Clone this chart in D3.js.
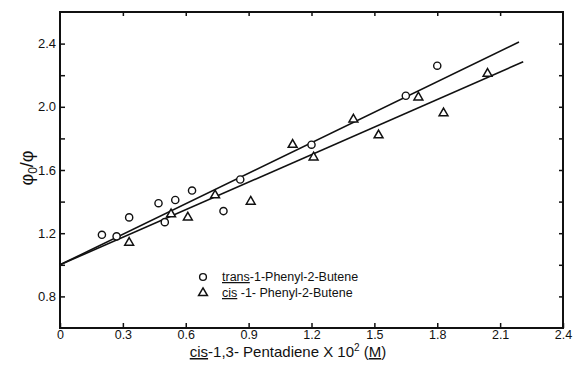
<!DOCTYPE html>
<html lang="en">
<head>
    <meta charset="UTF-8">
    <title>Stern-Volmer plot, phenyl-butene quenching by cis-1,3-pentadiene</title>
    <script src="https://d3js.org/d3.v7.min.js"></script>
    <style>
        body { margin: 0; background: #fff; }
        text { font-family: "Liberation Sans", Arial, sans-serif; fill: #111; }
    </style>
</head>
<body>
    <svg width="576" height="370"></svg>
    <script>
        const width = 576, height = 370;

        // tick values
        const xTicks = [0, 0.3, 0.6, 0.9, 1.2, 1.5, 1.8, 2.1, 2.4];
        const yLabelTicks = [0.8, 1.2, 1.6, 2.0, 2.4];
        const yAllTicks = [0.8, 1.0, 1.2, 1.4, 1.6, 1.8, 2.0, 2.2, 2.4];

        // trans-1-phenyl-2-butene (circles)
        const transX = [0.20, 0.27, 0.33, 0.47, 0.50, 0.55, 0.63, 0.78, 0.86, 1.20, 1.65, 1.80];
        const transY = [1.19, 1.18, 1.30, 1.39, 1.27, 1.41, 1.47, 1.34, 1.54, 1.76, 2.07, 2.26];

        // cis-1-phenyl-2-butene (triangles)
        const cisX = [0.33, 0.53, 0.61, 0.74, 0.91, 1.11, 1.21, 1.40, 1.52, 1.71, 1.83, 2.04];
        const cisY = [1.14, 1.32, 1.30, 1.44, 1.40, 1.76, 1.68, 1.92, 1.82, 2.06, 1.96, 2.21];

        // fitted lines: [x, y] end points
        const transLine = [[0, 1.0], [2.19, 2.41]];
        const cisLine = [[0, 1.0], [2.21, 2.285]];

        const svg = d3.select("svg");

        const x = d3.scaleLinear().domain([0, 2.4]).range([60, 563]);
        const y = d3.scaleLinear().domain([0.6, 2.6]).range([328, 12]);

        const fmt = d => d === 0 ? "0" : d3.format(".1f")(d);

        // frame
        svg.append("rect")
            .attr("x", x(0)).attr("y", y(2.6))
            .attr("width", x(2.4) - x(0)).attr("height", y(0.6) - y(2.6))
            .attr("fill", "none").attr("stroke", "#111").attr("stroke-width", 2);

        // bottom axis
        const bottomAxis = svg.append("g")
            .attr("transform", `translate(0,${y(0.6)})`)
            .call(d3.axisBottom(x).tickValues(xTicks).tickSizeInner(-5).tickSizeOuter(0)
                .tickPadding(2).tickFormat(fmt));
        bottomAxis.select(".domain").remove();
        bottomAxis.selectAll("line").attr("stroke", "#111").attr("stroke-width", 1.5);
        bottomAxis.selectAll("text").attr("font-size", 12.5).attr("font-family", "Liberation Sans, Arial, sans-serif");

        // top axis (ticks only)
        const topAxis = svg.append("g")
            .attr("transform", `translate(0,${y(2.6)})`)
            .call(d3.axisTop(x).tickValues(xTicks.slice(1, -1)).tickSizeInner(-4).tickSizeOuter(0).tickFormat(""));
        topAxis.select(".domain").remove();
        topAxis.selectAll("line").attr("stroke", "#111").attr("stroke-width", 1.5);

        // left axis
        const leftAxis = svg.append("g")
            .attr("transform", `translate(${x(0)},0)`)
            .call(d3.axisLeft(y).tickValues(yAllTicks).tickSizeInner(-5).tickSizeOuter(0)
                .tickPadding(4).tickFormat(d => yLabelTicks.some(v => Math.abs(v - d) < 1e-9) ? fmt(d) : ""));
        leftAxis.select(".domain").remove();
        leftAxis.selectAll("line").attr("stroke", "#111").attr("stroke-width", 1.5);
        leftAxis.selectAll("text").attr("font-size", 13).attr("font-family", "Liberation Sans, Arial, sans-serif");

        // right axis (ticks only)
        const rightAxis = svg.append("g")
            .attr("transform", `translate(${x(2.4)},0)`)
            .call(d3.axisRight(y).tickValues(yAllTicks).tickSizeInner(-4).tickSizeOuter(0).tickFormat(""));
        rightAxis.select(".domain").remove();
        rightAxis.selectAll("line").attr("stroke", "#111").attr("stroke-width", 1.5);

        // fitted lines
        const line = d3.line().x(d => x(d[0])).y(d => y(d[1]));
        [transLine, cisLine].forEach(l => {
            svg.append("path")
                .attr("d", line(l))
                .attr("fill", "none")
                .attr("stroke", "#111")
                .attr("stroke-width", 1.6);
        });

        // circles
        svg.append("g").selectAll("circle")
            .data(transX.map((v, i) => [v, transY[i]]))
            .join("circle")
            .attr("cx", d => x(d[0])).attr("cy", d => y(d[1]))
            .attr("r", 3.6)
            .attr("fill", "#fff").attr("stroke", "#111").attr("stroke-width", 1.4);

        // triangles
        const tri = d3.symbol().type(d3.symbolTriangle).size(34);
        svg.append("g").selectAll("path")
            .data(cisX.map((v, i) => [v, cisY[i]]))
            .join("path")
            .attr("d", tri)
            .attr("transform", d => `translate(${x(d[0])},${y(d[1])})`)
            .attr("fill", "#fff").attr("stroke", "#111").attr("stroke-width", 1.5);

        // legend
        const legend = svg.append("g");
        legend.append("circle")
            .attr("cx", 203).attr("cy", 277).attr("r", 3.4)
            .attr("fill", "#fff").attr("stroke", "#111").attr("stroke-width", 1.4);
        legend.append("path")
            .attr("d", tri)
            .attr("transform", "translate(203,293)")
            .attr("fill", "#fff").attr("stroke", "#111").attr("stroke-width", 1.5);
        const l1 = legend.append("text").attr("x", 222).attr("y", 281).attr("font-size", 12.5);
        l1.append("tspan").attr("text-decoration", "underline").text("trans");
        l1.append("tspan").text("-1-Phenyl-2-Butene");
        const l2 = legend.append("text").attr("x", 222).attr("y", 297).attr("font-size", 12.5);
        l2.append("tspan").attr("text-decoration", "underline").text("cis");
        l2.append("tspan").text(" -1- Phenyl-2-Butene");

        // x axis title
        const xt = svg.append("text")
            .attr("x", 288).attr("y", 357)
            .attr("text-anchor", "middle")
            .attr("font-size", 15);
        xt.append("tspan").attr("text-decoration", "underline").text("cis");
        xt.append("tspan").text("-1,3- Pentadiene X 10");
        xt.append("tspan").attr("dy", -6).attr("font-size", 10).text("2");
        xt.append("tspan").attr("dy", 6).text(" (");
        xt.append("tspan").attr("text-decoration", "underline").text("M");
        xt.append("tspan").text(")");

        // y axis title
        const yt = svg.append("text")
            .attr("transform", "translate(33,168) rotate(-90)")
            .attr("text-anchor", "middle")
            .attr("font-size", 18);
        yt.append("tspan").text("\u03c6");
        yt.append("tspan").attr("dy", 4).attr("font-size", 12).text("0");
        yt.append("tspan").attr("dy", -4).text("/\u03c6");
    </script>
</body>
</html>
